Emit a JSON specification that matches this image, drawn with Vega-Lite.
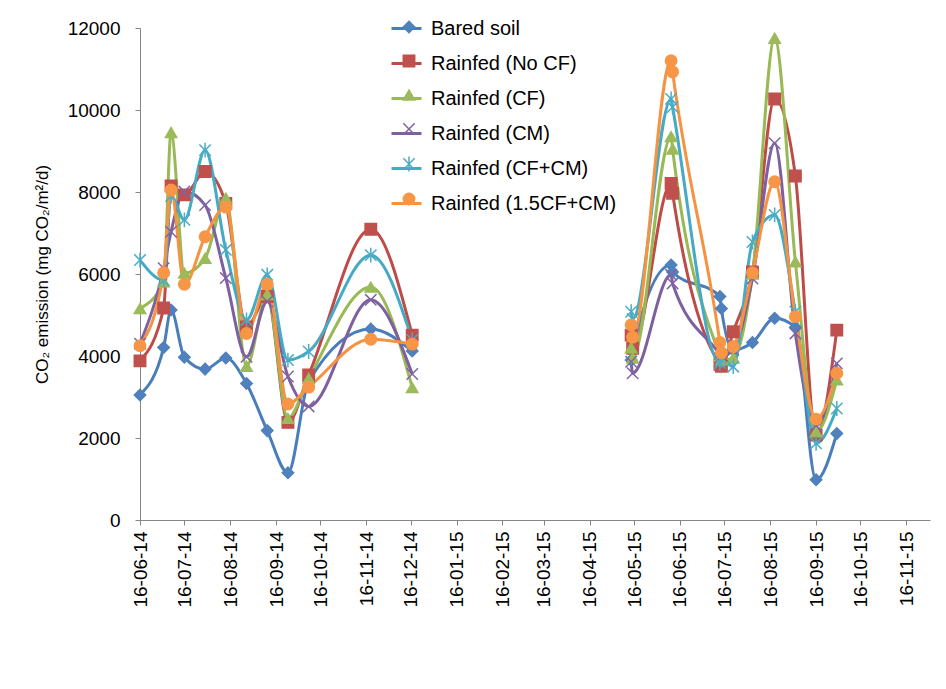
{
  "$schema": "https://vega.github.io/schema/vega-lite/v6.json",
  "width": 790,
  "height": 492,
  "autosize": {"type": "none"},
  "padding": {"left": 140, "top": 28, "right": 16, "bottom": 169},
  "background": "white",
  "config": {
    "view": {"stroke": null},
    "font": "Liberation Sans",
    "axis": {"grid": false, "domainColor": "#868686", "tickColor": "#868686", "tickSize": 5, "labelColor": "#000000", "labelFont": "Liberation Sans", "labelFontSize": 19, "titleFont": "Liberation Sans", "titleFontWeight": "normal", "titleColor": "#000000"},
    "legend": {"labelFont": "Liberation Sans", "labelFontSize": 20, "labelColor": "#000000", "labelLimit": 400}
  },
  "data": {"values": [
    {"series": "Bared soil", "date": "2014-06-16", "value": 3050},
    {"series": "Bared soil", "date": "2014-07-02", "value": 4210},
    {"series": "Bared soil", "date": "2014-07-07", "value": 5120},
    {"series": "Bared soil", "date": "2014-07-16", "value": 3970},
    {"series": "Bared soil", "date": "2014-07-30", "value": 3680},
    {"series": "Bared soil", "date": "2014-08-13", "value": 3950},
    {"series": "Bared soil", "date": "2014-08-27", "value": 3330},
    {"series": "Bared soil", "date": "2014-09-10", "value": 2180},
    {"series": "Bared soil", "date": "2014-09-24", "value": 1150},
    {"series": "Bared soil", "date": "2014-10-08", "value": 3380},
    {"series": "Bared soil", "date": "2014-11-19", "value": 4660},
    {"series": "Bared soil", "date": "2014-12-17", "value": 4120},
    {"series": "Bared soil", "date": "2015-05-14", "value": 3900},
    {"series": "Bared soil", "date": "2015-05-15", "value": 4150},
    {"series": "Bared soil", "date": "2015-06-10", "value": 6220},
    {"series": "Bared soil", "date": "2015-06-11", "value": 6050},
    {"series": "Bared soil", "date": "2015-07-13", "value": 5450},
    {"series": "Bared soil", "date": "2015-07-14", "value": 5160},
    {"series": "Bared soil", "date": "2015-07-22", "value": 4150},
    {"series": "Bared soil", "date": "2015-08-04", "value": 4330},
    {"series": "Bared soil", "date": "2015-08-19", "value": 4920},
    {"series": "Bared soil", "date": "2015-09-02", "value": 4700},
    {"series": "Bared soil", "date": "2015-09-16", "value": 980},
    {"series": "Bared soil", "date": "2015-09-30", "value": 2110},

    {"series": "Rainfed (No CF)", "date": "2014-06-16", "value": 3880},
    {"series": "Rainfed (No CF)", "date": "2014-07-02", "value": 5170},
    {"series": "Rainfed (No CF)", "date": "2014-07-07", "value": 8150},
    {"series": "Rainfed (No CF)", "date": "2014-07-16", "value": 7930},
    {"series": "Rainfed (No CF)", "date": "2014-07-30", "value": 8500},
    {"series": "Rainfed (No CF)", "date": "2014-08-13", "value": 7720},
    {"series": "Rainfed (No CF)", "date": "2014-08-27", "value": 4710},
    {"series": "Rainfed (No CF)", "date": "2014-09-10", "value": 5450},
    {"series": "Rainfed (No CF)", "date": "2014-09-24", "value": 2380},
    {"series": "Rainfed (No CF)", "date": "2014-10-08", "value": 3540},
    {"series": "Rainfed (No CF)", "date": "2014-11-19", "value": 7090},
    {"series": "Rainfed (No CF)", "date": "2014-12-17", "value": 4510},
    {"series": "Rainfed (No CF)", "date": "2015-05-14", "value": 4510},
    {"series": "Rainfed (No CF)", "date": "2015-05-15", "value": 4190},
    {"series": "Rainfed (No CF)", "date": "2015-06-10", "value": 8210},
    {"series": "Rainfed (No CF)", "date": "2015-06-11", "value": 7970},
    {"series": "Rainfed (No CF)", "date": "2015-07-13", "value": 3800},
    {"series": "Rainfed (No CF)", "date": "2015-07-14", "value": 3750},
    {"series": "Rainfed (No CF)", "date": "2015-07-22", "value": 4590},
    {"series": "Rainfed (No CF)", "date": "2015-08-04", "value": 6050},
    {"series": "Rainfed (No CF)", "date": "2015-08-19", "value": 10270},
    {"series": "Rainfed (No CF)", "date": "2015-09-02", "value": 8390},
    {"series": "Rainfed (No CF)", "date": "2015-09-16", "value": 2070},
    {"series": "Rainfed (No CF)", "date": "2015-09-30", "value": 4630},

    {"series": "Rainfed (CF)", "date": "2014-06-16", "value": 5160},
    {"series": "Rainfed (CF)", "date": "2014-07-02", "value": 5810},
    {"series": "Rainfed (CF)", "date": "2014-07-07", "value": 9450},
    {"series": "Rainfed (CF)", "date": "2014-07-16", "value": 6020},
    {"series": "Rainfed (CF)", "date": "2014-07-30", "value": 6380},
    {"series": "Rainfed (CF)", "date": "2014-08-13", "value": 7850},
    {"series": "Rainfed (CF)", "date": "2014-08-27", "value": 3750},
    {"series": "Rainfed (CF)", "date": "2014-09-10", "value": 5500},
    {"series": "Rainfed (CF)", "date": "2014-09-24", "value": 2480},
    {"series": "Rainfed (CF)", "date": "2014-10-08", "value": 3450},
    {"series": "Rainfed (CF)", "date": "2014-11-19", "value": 5680},
    {"series": "Rainfed (CF)", "date": "2014-12-17", "value": 3230},
    {"series": "Rainfed (CF)", "date": "2015-05-14", "value": 4200},
    {"series": "Rainfed (CF)", "date": "2015-05-15", "value": 3950},
    {"series": "Rainfed (CF)", "date": "2015-06-10", "value": 9350},
    {"series": "Rainfed (CF)", "date": "2015-06-11", "value": 9050},
    {"series": "Rainfed (CF)", "date": "2015-07-13", "value": 4000},
    {"series": "Rainfed (CF)", "date": "2015-07-14", "value": 3900},
    {"series": "Rainfed (CF)", "date": "2015-07-22", "value": 3950},
    {"series": "Rainfed (CF)", "date": "2015-08-04", "value": 6000},
    {"series": "Rainfed (CF)", "date": "2015-08-19", "value": 11750},
    {"series": "Rainfed (CF)", "date": "2015-09-02", "value": 6300},
    {"series": "Rainfed (CF)", "date": "2015-09-16", "value": 2150},
    {"series": "Rainfed (CF)", "date": "2015-09-30", "value": 3420},

    {"series": "Rainfed (CM)", "date": "2014-06-16", "value": 4300},
    {"series": "Rainfed (CM)", "date": "2014-07-02", "value": 6140},
    {"series": "Rainfed (CM)", "date": "2014-07-07", "value": 7030},
    {"series": "Rainfed (CM)", "date": "2014-07-16", "value": 8010},
    {"series": "Rainfed (CM)", "date": "2014-07-30", "value": 7680},
    {"series": "Rainfed (CM)", "date": "2014-08-13", "value": 5900},
    {"series": "Rainfed (CM)", "date": "2014-08-27", "value": 3980},
    {"series": "Rainfed (CM)", "date": "2014-09-10", "value": 5330},
    {"series": "Rainfed (CM)", "date": "2014-09-24", "value": 3500},
    {"series": "Rainfed (CM)", "date": "2014-10-08", "value": 2770},
    {"series": "Rainfed (CM)", "date": "2014-11-19", "value": 5370},
    {"series": "Rainfed (CM)", "date": "2014-12-17", "value": 3560},
    {"series": "Rainfed (CM)", "date": "2015-05-14", "value": 3860},
    {"series": "Rainfed (CM)", "date": "2015-05-15", "value": 3580},
    {"series": "Rainfed (CM)", "date": "2015-06-10", "value": 5980},
    {"series": "Rainfed (CM)", "date": "2015-06-11", "value": 5770},
    {"series": "Rainfed (CM)", "date": "2015-07-13", "value": 4050},
    {"series": "Rainfed (CM)", "date": "2015-07-14", "value": 4000},
    {"series": "Rainfed (CM)", "date": "2015-07-22", "value": 4150},
    {"series": "Rainfed (CM)", "date": "2015-08-04", "value": 5890},
    {"series": "Rainfed (CM)", "date": "2015-08-19", "value": 9190},
    {"series": "Rainfed (CM)", "date": "2015-09-02", "value": 4550},
    {"series": "Rainfed (CM)", "date": "2015-09-16", "value": 2300},
    {"series": "Rainfed (CM)", "date": "2015-09-30", "value": 3820},

    {"series": "Rainfed (CF+CM)", "date": "2014-06-16", "value": 6340},
    {"series": "Rainfed (CF+CM)", "date": "2014-07-02", "value": 5850},
    {"series": "Rainfed (CF+CM)", "date": "2014-07-07", "value": 7900},
    {"series": "Rainfed (CF+CM)", "date": "2014-07-16", "value": 7320},
    {"series": "Rainfed (CF+CM)", "date": "2014-07-30", "value": 9020},
    {"series": "Rainfed (CF+CM)", "date": "2014-08-13", "value": 6590},
    {"series": "Rainfed (CF+CM)", "date": "2014-08-27", "value": 4880},
    {"series": "Rainfed (CF+CM)", "date": "2014-09-10", "value": 5980},
    {"series": "Rainfed (CF+CM)", "date": "2014-09-24", "value": 3900},
    {"series": "Rainfed (CF+CM)", "date": "2014-10-08", "value": 4110},
    {"series": "Rainfed (CF+CM)", "date": "2014-11-19", "value": 6460},
    {"series": "Rainfed (CF+CM)", "date": "2014-12-17", "value": 4390},
    {"series": "Rainfed (CF+CM)", "date": "2015-05-14", "value": 5080},
    {"series": "Rainfed (CF+CM)", "date": "2015-05-15", "value": 4900},
    {"series": "Rainfed (CF+CM)", "date": "2015-06-10", "value": 10270},
    {"series": "Rainfed (CF+CM)", "date": "2015-06-11", "value": 10070},
    {"series": "Rainfed (CF+CM)", "date": "2015-07-13", "value": 3830},
    {"series": "Rainfed (CF+CM)", "date": "2015-07-14", "value": 3900},
    {"series": "Rainfed (CF+CM)", "date": "2015-07-22", "value": 3740},
    {"series": "Rainfed (CF+CM)", "date": "2015-08-04", "value": 6780},
    {"series": "Rainfed (CF+CM)", "date": "2015-08-19", "value": 7440},
    {"series": "Rainfed (CF+CM)", "date": "2015-09-02", "value": 5080},
    {"series": "Rainfed (CF+CM)", "date": "2015-09-16", "value": 1870},
    {"series": "Rainfed (CF+CM)", "date": "2015-09-30", "value": 2720},

    {"series": "Rainfed (1.5CF+CM)", "date": "2014-06-16", "value": 4250},
    {"series": "Rainfed (1.5CF+CM)", "date": "2014-07-02", "value": 6030},
    {"series": "Rainfed (1.5CF+CM)", "date": "2014-07-07", "value": 8050},
    {"series": "Rainfed (1.5CF+CM)", "date": "2014-07-16", "value": 5750},
    {"series": "Rainfed (1.5CF+CM)", "date": "2014-07-30", "value": 6910},
    {"series": "Rainfed (1.5CF+CM)", "date": "2014-08-13", "value": 7630},
    {"series": "Rainfed (1.5CF+CM)", "date": "2014-08-27", "value": 4550},
    {"series": "Rainfed (1.5CF+CM)", "date": "2014-09-10", "value": 5750},
    {"series": "Rainfed (1.5CF+CM)", "date": "2014-09-24", "value": 2830},
    {"series": "Rainfed (1.5CF+CM)", "date": "2014-10-08", "value": 3240},
    {"series": "Rainfed (1.5CF+CM)", "date": "2014-11-19", "value": 4410},
    {"series": "Rainfed (1.5CF+CM)", "date": "2014-12-17", "value": 4290},
    {"series": "Rainfed (1.5CF+CM)", "date": "2015-05-14", "value": 4760},
    {"series": "Rainfed (1.5CF+CM)", "date": "2015-05-15", "value": 4460},
    {"series": "Rainfed (1.5CF+CM)", "date": "2015-06-10", "value": 11200},
    {"series": "Rainfed (1.5CF+CM)", "date": "2015-06-11", "value": 10930},
    {"series": "Rainfed (1.5CF+CM)", "date": "2015-07-13", "value": 4330},
    {"series": "Rainfed (1.5CF+CM)", "date": "2015-07-14", "value": 4080},
    {"series": "Rainfed (1.5CF+CM)", "date": "2015-07-22", "value": 4230},
    {"series": "Rainfed (1.5CF+CM)", "date": "2015-08-04", "value": 6030},
    {"series": "Rainfed (1.5CF+CM)", "date": "2015-08-19", "value": 8250},
    {"series": "Rainfed (1.5CF+CM)", "date": "2015-09-02", "value": 4960},
    {"series": "Rainfed (1.5CF+CM)", "date": "2015-09-16", "value": 2460},
    {"series": "Rainfed (1.5CF+CM)", "date": "2015-09-30", "value": 3580}
  ]},
  "encoding": {
    "x": {
      "field": "date", "type": "temporal",
      "scale": {"type": "utc", "domain": [{"year": 2014, "month": 6, "date": 16, "utc": true}, {"year": 2015, "month": 12, "date": 2, "utc": true}]},
      "axis": {
        "title": null, "format": "%d-%m-%y", "labelAngle": 270, "labelAlign": "right", "labelBaseline": "middle", "labelPadding": 6,
        "values": [
          {"year": 2014, "month": 6, "date": 16, "utc": true},
          {"year": 2014, "month": 7, "date": 16, "utc": true},
          {"year": 2014, "month": 8, "date": 16, "utc": true},
          {"year": 2014, "month": 9, "date": 16, "utc": true},
          {"year": 2014, "month": 10, "date": 16, "utc": true},
          {"year": 2014, "month": 11, "date": 16, "utc": true},
          {"year": 2014, "month": 12, "date": 16, "utc": true},
          {"year": 2015, "month": 1, "date": 16, "utc": true},
          {"year": 2015, "month": 2, "date": 16, "utc": true},
          {"year": 2015, "month": 3, "date": 16, "utc": true},
          {"year": 2015, "month": 4, "date": 16, "utc": true},
          {"year": 2015, "month": 5, "date": 16, "utc": true},
          {"year": 2015, "month": 6, "date": 16, "utc": true},
          {"year": 2015, "month": 7, "date": 16, "utc": true},
          {"year": 2015, "month": 8, "date": 16, "utc": true},
          {"year": 2015, "month": 9, "date": 16, "utc": true},
          {"year": 2015, "month": 10, "date": 16, "utc": true},
          {"year": 2015, "month": 11, "date": 16, "utc": true}
        ]
      }
    },
    "y": {
      "field": "value", "type": "quantitative",
      "scale": {"domain": [0, 12000], "nice": false},
      "axis": {"title": "CO₂ emission (mg CO₂/m²/d)", "titleFontSize": 17, "titlePadding": 16, "values": [0, 2000, 4000, 6000, 8000, 10000, 12000], "format": "d", "labelPadding": 15}
    }
  },
  "layer": [
    {
      "mark": {"type": "line", "interpolate": "monotone", "strokeWidth": 3},
      "encoding": {
        "color": {
          "field": "series", "type": "nominal",
          "sort": ["Bared soil", "Rainfed (No CF)", "Rainfed (CF)", "Rainfed (CM)", "Rainfed (CF+CM)", "Rainfed (1.5CF+CM)"],
          "scale": {"range": ["#4A7EBB", "#BE4B48", "#98B954", "#7D60A0", "#46AAC5", "#F69240"]},
          "legend": {"title": null, "orient": "none", "legendX": 250, "legendY": -16, "symbolType": "stroke", "symbolSize": 900, "symbolStrokeWidth": 3, "rowPadding": 8, "labelOffset": 8}
        },
        "detail": {"field": "date", "timeUnit": "utcyear", "type": "ordinal"}
      }
    },
    {
      "mark": {"type": "point", "filled": true, "size": 130, "strokeWidth": 1.5, "opacity": 1},
      "encoding": {
        "fill": {
          "field": "series", "type": "nominal",
          "scale": {"domain": ["Bared soil", "Rainfed (No CF)", "Rainfed (CF)", "Rainfed (CM)", "Rainfed (CF+CM)", "Rainfed (1.5CF+CM)"], "range": ["#4F81BD", "#C0504D", "#9BBB59", "#8064A2", "#4BACC6", "#F79646"]},
          "legend": {"title": null, "orient": "none", "legendX": 259, "legendY": -11, "symbolSize": 130, "symbolStrokeWidth": 1.5, "rowPadding": 14, "labelExpr": "''"}
        },
        "stroke": {
          "field": "series", "type": "nominal",
          "scale": {"domain": ["Bared soil", "Rainfed (No CF)", "Rainfed (CF)", "Rainfed (CM)", "Rainfed (CF+CM)", "Rainfed (1.5CF+CM)"], "range": ["#4F81BD", "#C0504D", "#9BBB59", "#8064A2", "#4BACC6", "#F79646"]},
          "legend": {"title": null, "orient": "none", "legendX": 259, "legendY": -11, "symbolSize": 130, "symbolStrokeWidth": 1.5, "rowPadding": 14, "labelExpr": "''"}
        },
        "shape": {
          "field": "series", "type": "nominal",
          "scale": {"domain": ["Bared soil", "Rainfed (No CF)", "Rainfed (CF)", "Rainfed (CM)", "Rainfed (CF+CM)", "Rainfed (1.5CF+CM)"], "range": ["diamond", "square", "triangle-up", "M-1,-1L1,1M-1,1L1,-1", "M-1,-1L1,1M-1,1L1,-1M0,-1.3L0,1.3", "circle"]},
          "legend": {"title": null, "orient": "none", "legendX": 259, "legendY": -11, "symbolSize": 130, "symbolStrokeWidth": 1.5, "rowPadding": 14, "labelExpr": "''"}
        }
      }
    }
  ]
}
